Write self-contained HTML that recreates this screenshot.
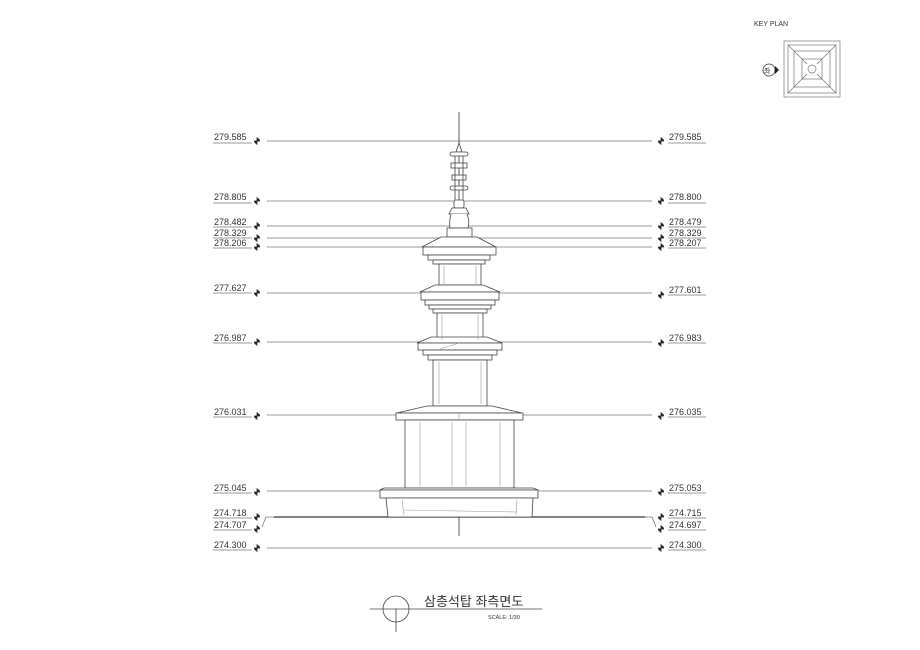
<!DOCTYPE html>
<html><head><meta charset="utf-8"><style>
html,body{margin:0;padding:0;background:#fff;width:920px;height:650px;overflow:hidden}
svg{display:block}
text{font-family:"Liberation Sans","Noto Sans CJK KR",sans-serif;fill:#333}
</style></head><body>
<svg width="920" height="650" viewBox="0 0 920 650" xmlns="http://www.w3.org/2000/svg">
<g stroke="#777" stroke-width="0.8" fill="none">
<line x1="267" y1="141" x2="652" y2="141"/>
<line x1="267" y1="201" x2="652" y2="201"/>
<line x1="267" y1="226" x2="652" y2="226"/>
<line x1="267" y1="238" x2="652" y2="238"/>
<line x1="267" y1="247" x2="652" y2="247"/>
<line x1="267" y1="293" x2="652" y2="293"/>
<line x1="267" y1="342" x2="652" y2="342"/>
<line x1="267" y1="415" x2="652" y2="415"/>
<line x1="267" y1="491" x2="652" y2="491"/>
<line x1="274" y1="517" x2="645" y2="517" stroke="#333" stroke-width="1.2"/>
<line x1="267" y1="548" x2="652" y2="548"/>
<g>
<line x1="213" y1="143" x2="252" y2="143"/><line x1="213" y1="203" x2="252" y2="203"/>
<line x1="213" y1="227" x2="252" y2="227"/><line x1="213" y1="238" x2="252" y2="238"/>
<line x1="213" y1="248" x2="252" y2="248"/><line x1="213" y1="293" x2="252" y2="293"/>
<line x1="213" y1="343" x2="252" y2="343"/><line x1="213" y1="417" x2="252" y2="417"/>
<line x1="213" y1="493" x2="252" y2="493"/><line x1="213" y1="518" x2="252" y2="518"/>
<line x1="213" y1="530" x2="252" y2="530"/><line x1="213" y1="550" x2="252" y2="550"/>
</g>
<g>
<line x1="668" y1="143" x2="706" y2="143"/><line x1="668" y1="203" x2="706" y2="203"/>
<line x1="668" y1="227" x2="706" y2="227"/><line x1="668" y1="238" x2="706" y2="238"/>
<line x1="668" y1="248" x2="706" y2="248"/><line x1="668" y1="295" x2="706" y2="295"/>
<line x1="668" y1="343" x2="706" y2="343"/><line x1="668" y1="417" x2="706" y2="417"/>
<line x1="668" y1="493" x2="706" y2="493"/><line x1="668" y1="518" x2="706" y2="518"/>
<line x1="668" y1="530" x2="706" y2="530"/><line x1="668" y1="550" x2="706" y2="550"/>
</g>
<path d="M262 527 L266 517 L274 517"/><path d="M656 527 L652 517 L645 517"/>
<line x1="459" y1="112" x2="459" y2="536" stroke="#333"/>
</g>
<g fill="#222">
<g id="mk"><path d="M257 141 L257 138 A3 3 0 0 1 260 141 Z M257 141 L257 144 A3 3 0 0 1 254 141 Z"/><path d="M254 141 L260 141 M257 137 L257 145" stroke="#222" stroke-width="0.7"/></g>
<use href="#mk" y="60"/><use href="#mk" y="85"/><use href="#mk" y="97"/><use href="#mk" y="106"/>
<use href="#mk" y="152"/><use href="#mk" y="201"/><use href="#mk" y="275"/><use href="#mk" y="351"/>
<use href="#mk" y="376"/><use href="#mk" y="388"/><use href="#mk" y="407"/>
<use href="#mk" x="404"/><use href="#mk" x="404" y="60"/><use href="#mk" x="404" y="85"/><use href="#mk" x="404" y="97"/><use href="#mk" x="404" y="106"/>
<use href="#mk" x="404" y="154"/><use href="#mk" x="404" y="202"/><use href="#mk" x="404" y="275"/><use href="#mk" x="404" y="351"/>
<use href="#mk" x="404" y="376"/><use href="#mk" x="404" y="388"/><use href="#mk" x="404" y="407"/>
</g>
<g font-size="9">
<text x="214" y="140">279.585</text><text x="214" y="200">278.805</text><text x="214" y="225">278.482</text>
<text x="214" y="236">278.329</text><text x="214" y="246">278.206</text><text x="214" y="291">277.627</text>
<text x="214" y="341">276.987</text><text x="214" y="415">276.031</text><text x="214" y="491">275.045</text>
<text x="214" y="516">274.718</text><text x="214" y="528">274.707</text><text x="214" y="548">274.300</text>
<text x="669" y="140">279.585</text><text x="669" y="200">278.800</text><text x="669" y="225">278.479</text>
<text x="669" y="236">278.329</text><text x="669" y="246">278.207</text><text x="669" y="293">277.601</text>
<text x="669" y="341">276.983</text><text x="669" y="415">276.035</text><text x="669" y="491">275.053</text>
<text x="669" y="516">274.715</text><text x="669" y="528">274.697</text><text x="669" y="548">274.300</text>
</g>
<g stroke="#444" stroke-width="0.8" fill="#fff">
<path d="M459 143 L456 152 L462 152 Z"/>
<rect x="450" y="152" width="18" height="4" rx="2"/>
<rect x="451" y="163" width="16" height="5"/>
<rect x="452" y="175" width="14" height="5"/>
<rect x="450" y="186" width="18" height="4" rx="2"/>
<line x1="455" y1="156" x2="455" y2="200"/><line x1="463" y1="156" x2="463" y2="200"/>
<rect x="454" y="200" width="10" height="8" rx="2"/>
<path d="M452 208 L466 208 L469 214 L449 214 Z"/>
<path d="M451 214 Q449 222 450 228 L468 228 Q470 222 467 214"/>
<rect x="447" y="228" width="25" height="9"/>
<path d="M441 237 L477 237 L496 247 L422 247 Z"/>
<rect x="423" y="247" width="73" height="8"/>
<rect x="428" y="255" width="62" height="5"/>
<rect x="433" y="260" width="52" height="4"/>
<rect x="439" y="264" width="42" height="21"/>
<path d="M435 285 L483 285 L500 292 L420 292 Z"/>
<rect x="421" y="292" width="78" height="8"/>
<rect x="425" y="300" width="70" height="5"/>
<rect x="429" y="305" width="62" height="4"/>
<rect x="433" y="309" width="54" height="4"/>
<rect x="437" y="313" width="46" height="28"/>
<path d="M431 337 L487 337 L502 343 L417 343 Z"/>
<rect x="418" y="343" width="84" height="7"/>
<rect x="423" y="350" width="74" height="5"/>
<rect x="428" y="355" width="64" height="5"/>
<rect x="433" y="360" width="54" height="46"/>
<path d="M427 406 L492 406 L522 413 L397 413 Z"/>
<rect x="396" y="413" width="127" height="7"/>
<rect x="405" y="420" width="109" height="68"/>
<path d="M384 488 L533 488 L538 490 L380 490 Z"/>
<rect x="380" y="490" width="158" height="8"/>
<path d="M386 498 L533 498 L532 517 L388 517 Z"/>
</g>
<g stroke="#999" stroke-width="0.6" fill="none">
<line x1="444" y1="266" x2="444" y2="284"/><line x1="476" y1="266" x2="476" y2="284"/>
<line x1="442" y1="315" x2="442" y2="340"/><line x1="478" y1="315" x2="478" y2="340"/>
<line x1="439" y1="362" x2="439" y2="404"/><line x1="481" y1="362" x2="481" y2="404"/>
<line x1="420" y1="422" x2="420" y2="486"/><line x1="500" y1="422" x2="500" y2="486"/>
<line x1="452" y1="422" x2="452" y2="486"/><line x1="466" y1="422" x2="466" y2="486"/>
<line x1="402" y1="500" x2="404" y2="515"/><line x1="517" y1="500" x2="516" y2="515"/>
<line x1="404" y1="510" x2="516" y2="512"/>
<line x1="459" y1="343" x2="440" y2="349"/><line x1="459" y1="413" x2="459" y2="420"/>
</g>
<g stroke="#444" stroke-width="0.8" fill="none">
<circle cx="396" cy="609" r="13"/>
<line x1="370" y1="609" x2="542" y2="609"/>
<line x1="396" y1="609" x2="396" y2="632"/>
</g>
<text x="424" y="606" font-size="13">삼층석탑 좌측면도</text>
<text x="488" y="619" font-size="5.5">SCALE: 1/30</text>
<text x="754" y="26" font-size="7">KEY PLAN</text>
<g stroke="#777" stroke-width="0.7" fill="none">
<rect x="784" y="41" width="56" height="56"/>
<rect x="788" y="45" width="48" height="48"/>
<rect x="794" y="51" width="36" height="36"/>
<rect x="802" y="59" width="20" height="20"/>
<circle cx="812" cy="69" r="4"/>
<line x1="788" y1="45" x2="807" y2="64"/><line x1="836" y1="45" x2="817" y2="64"/>
<line x1="788" y1="93" x2="807" y2="74"/><line x1="836" y1="93" x2="817" y2="74"/>
</g>
<circle cx="769" cy="70" r="6" fill="#fff" stroke="#333" stroke-width="0.8"/>
<path d="M775 66 L779 70 L775 74 Z" fill="#222"/>
<text x="764" y="73" font-size="7">좌</text>
</svg>
</body></html>
